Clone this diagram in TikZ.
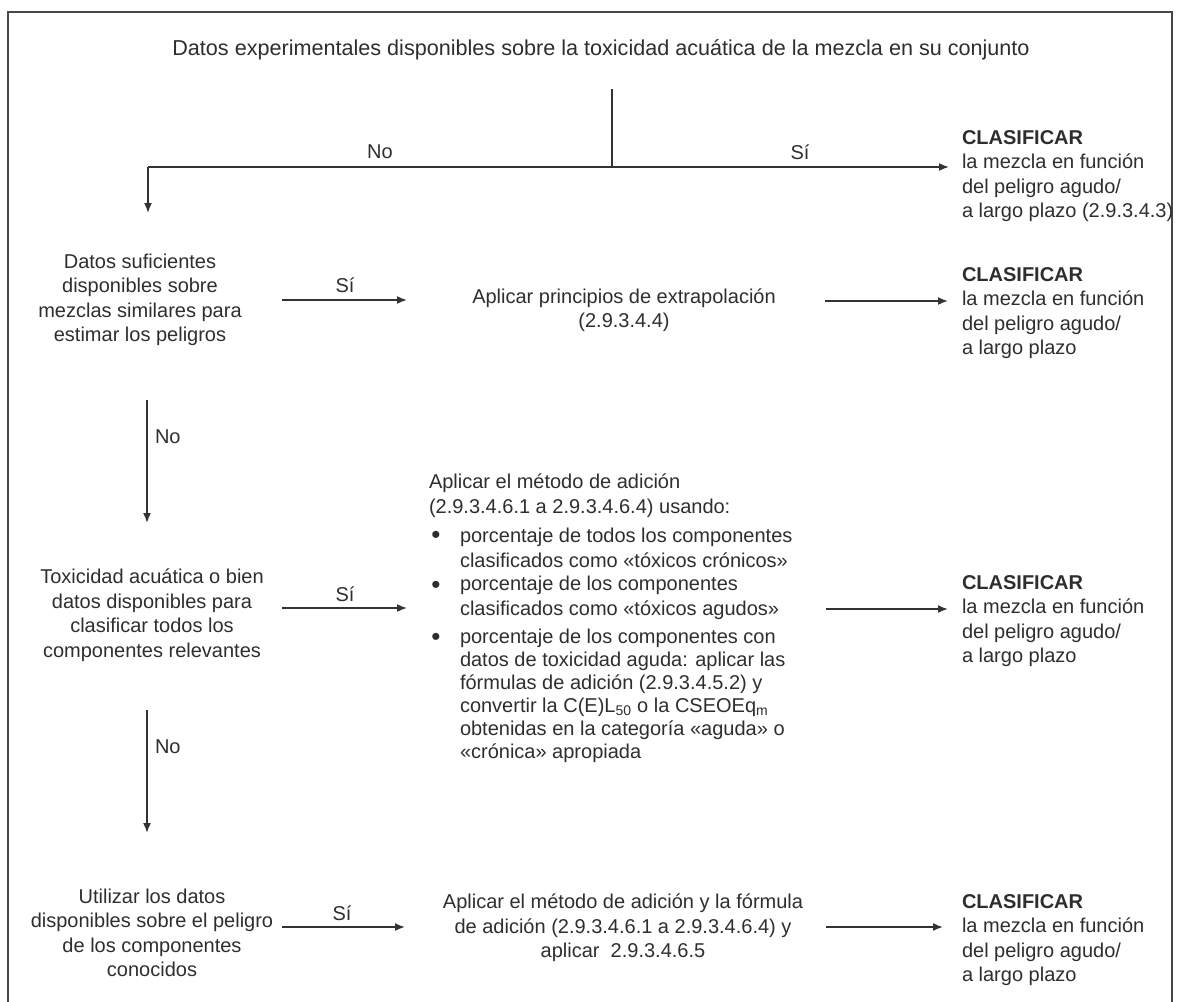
\documentclass[tikz,border=0pt]{standalone}
\usepackage{fontspec}
\setmainfont{Liberation Sans}
\usetikzlibrary{arrows.meta}
\definecolor{txt}{HTML}{2E2E2E}
\definecolor{ln}{HTML}{333333}
\begin{document}
\begin{tikzpicture}[x=1pt,y=-1pt,
  every node/.style={inner sep=0pt,outer sep=0pt,text=txt,font=\fontsize{20}{24.5}\selectfont},
  ctext/.style={align=center},
  ltext/.style={align=left,anchor=west},
  lbl/.style={},
  bulletmark/.style={font=\fontsize{26}{26}\selectfont},
  conn/.style={draw=ln,line width=1.7pt},
  arr/.style={conn,-{Latex[length=10pt,width=8pt]}},
  frame/.style={draw=ln!90,line width=2pt}
]
\useasboundingbox (0,0) rectangle (1177,1001);
% frame
\draw[frame] (8,1010) -- (8,12) -- (1172,12) -- (1172,1010);

% nodes
\node[ctext,font=\fontsize{21.6}{26}\selectfont] (title) at (601,50) {Datos experimentales disponibles sobre la toxicidad acuática de la mezcla en su conjunto};

\node[ltext] (clas1) at (962,176) {\textbf{CLASIFICAR}\\la mezcla en función\\del peligro agudo/\\a largo plazo (2.9.3.4.3)};

\node[ctext] (box1) at (140,300) {Datos suficientes\\disponibles sobre\\mezclas similares para\\estimar los peligros};
\node[ctext] (box2) at (624,310) {Aplicar principios de extrapolación\\(2.9.3.4.4)};
\node[ltext] (clas2) at (962,313) {\textbf{CLASIFICAR}\\la mezcla en función\\del peligro agudo/\\a largo plazo};

\node[ltext] (b3h) at (429,495.5) {Aplicar el método de adición\\(2.9.3.4.6.1 a 2.9.3.4.6.4) usando:};
\node[bulletmark] (bul1) at (436,537) {\textbullet};
\node[ltext] (b3i1) at (460,548) {porcentaje de todos los componentes\\clasificados como «tóxicos crónicos»};
\node[bulletmark] (bul2) at (436,587) {\textbullet};
\node[ltext] (b3i2) at (460,598) {porcentaje de los componentes\\clasificados como «tóxicos agudos»};
\node[bulletmark] (bul3) at (436,639) {\textbullet};
\node[ltext,font=\fontsize{20}{23}\selectfont] (b3i3) at (460,696) {porcentaje de los componentes con\\datos de toxicidad aguda: aplicar las\\fórmulas de adición (2.9.3.4.5.2) y\\convertir la C(E)L\textsubscript{50} o la CSEOEq\textsubscript{m}\\obtenidas en la categoría «aguda» o\\«crónica» apropiada};

\node[ctext] (box4) at (152,615) {Toxicidad acuática o bien\\datos disponibles para\\clasificar todos los\\componentes relevantes};
\node[ltext] (clas3) at (962,621) {\textbf{CLASIFICAR}\\la mezcla en función\\del peligro agudo/\\a largo plazo};

\node[ctext] (box5) at (152,933) {Utilizar los datos\\disponibles sobre el peligro\\de los componentes\\conocidos};
\node[ctext] (box6) at (623,928) {Aplicar el método de adición y la fórmula\\de adición (2.9.3.4.6.1 a 2.9.3.4.6.4) y\\aplicar~~2.9.3.4.6.5};
\node[ltext] (clas4) at (962,940) {\textbf{CLASIFICAR}\\la mezcla en función\\del peligro agudo/\\a largo plazo};

% connector coordinates
\coordinate (t1) at (612,89);
\coordinate (t2) at (612,167);
\coordinate (tl) at (148,167);
\coordinate (tr) at (949,167);
\coordinate (td) at (148,213);

\coordinate (r2a) at (282,300); \coordinate (r2b) at (407,300);
\coordinate (r2c) at (825,301); \coordinate (r2d) at (948,301);
\coordinate (n1a) at (147,400); \coordinate (n1b) at (147,523);
\coordinate (r3a) at (282,608); \coordinate (r3b) at (407,608);
\coordinate (r3c) at (826,609); \coordinate (r3d) at (948,609);
\coordinate (n2a) at (147,710); \coordinate (n2b) at (147,833);
\coordinate (r4a) at (282,927); \coordinate (r4b) at (405,927);
\coordinate (r4c) at (826,927); \coordinate (r4d) at (943,927);

% connectors
\draw[conn] (t1) -- (t2);
\draw[arr] (t2) -- (tr);
\draw[conn] (t2) -- (tl);
\draw[arr] (tl) -- (td);
\draw[arr] (r2a) -- (r2b);
\draw[arr] (r2c) -- (r2d);
\draw[arr] (n1a) -- (n1b);
\draw[arr] (r3a) -- (r3b);
\draw[arr] (r3c) -- (r3d);
\draw[arr] (n2a) -- (n2b);
\draw[arr] (r4a) -- (r4b);
\draw[arr] (r4c) -- (r4d);

% labels
\node[lbl] (lno1) at (380,152) {No};
\node[lbl] (lsi1) at (800,152) {Sí};
\node[lbl] (lsi2) at (345,285) {Sí};
\node[lbl,anchor=west] (lno2) at (155,437) {No};
\node[lbl] (lsi3) at (345,594) {Sí};
\node[lbl,anchor=west] (lno3) at (155,747) {No};
\node[lbl] (lsi4) at (342,913) {Sí};
\end{tikzpicture}
\end{document}
